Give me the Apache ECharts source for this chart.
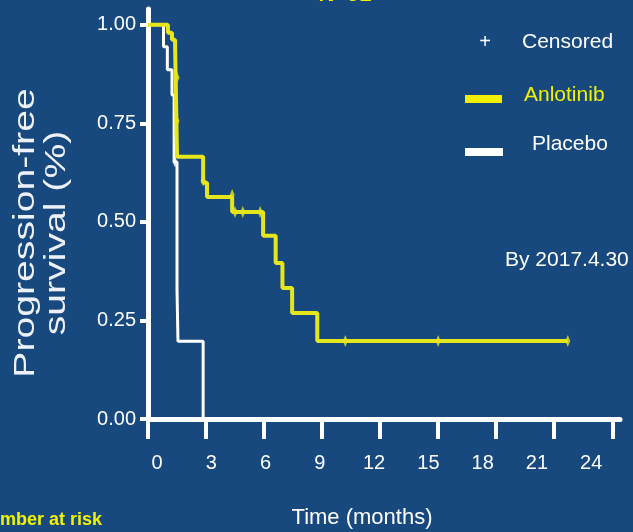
<!DOCTYPE html>
<html>
<head>
<meta charset="utf-8">
<script src="https://cdn.jsdelivr.net/npm/echarts@6/dist/echarts.min.js"></script>
<style>
  html, body { margin: 0; padding: 0; background: #17497f; }
  #chart { width: 633px; height: 532px; }
</style>
</head>
<body>
<div id="chart"></div>
<script>
// Kaplan-Meier step points (time in months, survival proportion)
const anlotinibTime = [0, 1.03, 1.24, 1.40, 1.50, 2.85, 3.05, 4.35, 5.95, 6.60, 6.95, 7.45, 8.75, 21.7];
const anlotinibSurv = [1, 0.980, 0.962, 0.949, 0.665, 0.599, 0.563, 0.525, 0.465, 0.396, 0.332, 0.269, 0.198, 0.198];
const anlotinibCensorTime = [1.50, 1.50, 2.85, 4.35, 4.50, 4.90, 5.80, 10.2, 15.0, 21.7];
const anlotinibCensorSurv = [0.866, 0.756, 0.605, 0.568, 0.525, 0.525, 0.525, 0.198, 0.198, 0.198];

const placeboTime = [0, 0.80, 1.00, 1.24, 1.35, 1.50, 1.55, 2.85];
const placeboSurv = [1, 0.944, 0.886, 0.822, 0.652, 0.327, 0.197, 0];
const placeboCensorTime = [1.40];
const placeboCensorSurv = [0.652];

const xTickValues = [0, 3, 6, 9, 12, 15, 18, 21, 24];
const yTickValues = [0, 0.25, 0.5, 0.75, 1];

const FONT = '"Liberation Sans", Arial, sans-serif';
const YELLOW = '#e6e61c';
const TEXT_YELLOW = '#f2f200';
const WHITE = '#ffffff';

function pairs(t, s) { return t.map((v, i) => [v, s[i]]); }

const censorSymbol = 'path://M1,0 L2,5 L1,10 L0,5 Z';

const chart = echarts.init(document.getElementById('chart'), null, { renderer: 'canvas' });

const option = {
  backgroundColor: '#17497f',
  animation: false,
  grid: { left: 148, right: 13, top: 9, bottom: 113 },
  xAxis: [
    {
      type: 'value', min: 0, max: 24.4, position: 'bottom',
      axisLine: { onZero: false, lineStyle: { color: WHITE, width: 5 } },
      axisTick: { show: true, length: 20, customValues: xTickValues, lineStyle: { color: WHITE, width: 4 } },
      axisLabel: { show: false },
      splitLine: { show: false }
    },
    {
      // label placement scale for the month labels under the axis
      type: 'value', min: -0.4975, max: 25.59, position: 'bottom',
      axisLine: { show: false },
      axisTick: { show: false },
      axisLabel: { customValues: xTickValues, margin: 34, color: WHITE, fontSize: 20, fontFamily: FONT },
      splitLine: { show: false }
    }
  ],
  yAxis: {
    type: 'value', min: 0, max: 1.04,
    axisLine: { lineStyle: { color: WHITE, width: 5 } },
    axisTick: { show: true, length: 8, customValues: yTickValues, lineStyle: { color: WHITE, width: 4 } },
    axisLabel: { customValues: yTickValues, formatter: v => v.toFixed(2), margin: 12, color: WHITE, fontSize: 20, fontFamily: FONT },
    splitLine: { show: false }
  },
  series: [
    {
      name: 'Placebo', type: 'line', step: 'end', xAxisIndex: 0,
      data: pairs(placeboTime, placeboSurv),
      showSymbol: false, lineStyle: { color: WHITE, width: 3 }, z: 3
    },
    {
      name: 'Placebo censored', type: 'scatter', xAxisIndex: 0,
      data: pairs(placeboCensorTime, placeboCensorSurv),
      symbol: censorSymbol, symbolSize: [5, 11], itemStyle: { color: WHITE }, z: 4
    },
    {
      name: 'Anlotinib', type: 'line', step: 'end', xAxisIndex: 0,
      data: pairs(anlotinibTime, anlotinibSurv),
      showSymbol: false, lineStyle: { color: YELLOW, width: 4 }, z: 5
    },
    {
      name: 'Anlotinib censored', type: 'scatter', xAxisIndex: 0,
      data: pairs(anlotinibCensorTime, anlotinibCensorSurv),
      symbol: censorSymbol, symbolSize: [5, 12], itemStyle: { color: YELLOW }, z: 6
    }
  ],
  graphic: [
    {
      type: 'text', x: 41, y: 233, rotation: Math.PI / 2, scaleX: 1.35,
      style: {
        text: 'Progression-free\nsurvival (%)', font: '29px ' + FONT, fill: '#eef2f8',
        align: 'center', verticalAlign: 'middle', lineHeight: 31
      }
    },
    {
      type: 'text', x: 362, y: 518,
      style: { text: 'Time (months)', font: '22px ' + FONT, fill: WHITE, align: 'center', verticalAlign: 'middle' }
    },
    {
      type: 'text', x: -24, y: 520,
      style: { text: 'Number at risk', font: 'bold 18px ' + FONT, fill: TEXT_YELLOW, align: 'left', verticalAlign: 'middle' }
    },
    {
      type: 'text', x: 345, y: 6,
      style: { text: 'N=91', font: 'bold 22px ' + FONT, fill: TEXT_YELLOW, align: 'center', verticalAlign: 'bottom' }
    },
    // legend
    {
      type: 'text', x: 485, y: 42,
      style: { text: '+', font: '20px ' + FONT, fill: WHITE, align: 'center', verticalAlign: 'middle' }
    },
    {
      type: 'text', x: 522, y: 42,
      style: { text: 'Censored', font: '21px ' + FONT, fill: WHITE, align: 'left', verticalAlign: 'middle' }
    },
    {
      type: 'rect', shape: { x: 465, y: 95, width: 37, height: 8 }, style: { fill: '#f0f000' }
    },
    {
      type: 'text', x: 524, y: 95,
      style: { text: 'Anlotinib', font: '21px ' + FONT, fill: TEXT_YELLOW, align: 'left', verticalAlign: 'middle' }
    },
    {
      type: 'rect', shape: { x: 465, y: 148, width: 38, height: 8 }, style: { fill: WHITE }
    },
    {
      type: 'text', x: 532, y: 144,
      style: { text: 'Placebo', font: '21px ' + FONT, fill: WHITE, align: 'left', verticalAlign: 'middle' }
    },
    {
      type: 'text', x: 505, y: 260,
      style: { text: 'By 2017.4.30', font: '21px ' + FONT, fill: WHITE, align: 'left', verticalAlign: 'middle' }
    }
  ]
};

chart.setOption(option);
</script>
</body>
</html>
